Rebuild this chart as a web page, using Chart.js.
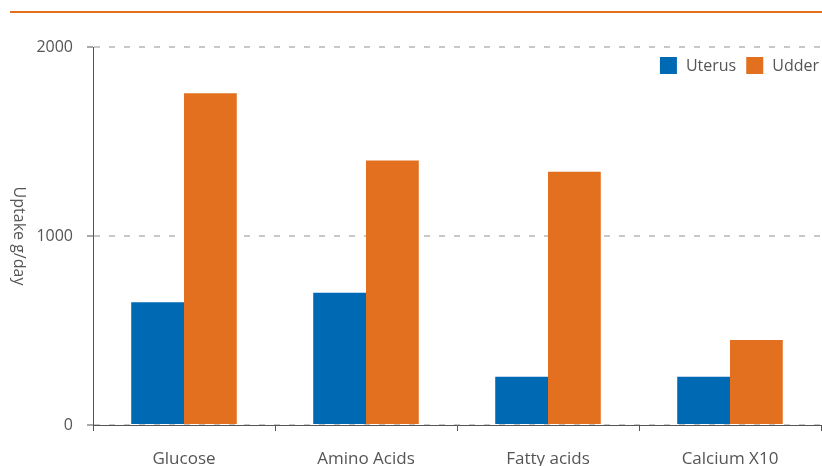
<!DOCTYPE html>
<html lang="en">
<head>
    <meta charset="UTF-8">
    <title>Uptake g/day</title>
    <script src="https://cdn.jsdelivr.net/npm/chart.js"></script>
    <style>
        body { margin: 0; background: #fff; }
        #wrap { position: relative; width: 822px; height: 466px; }
        #topline { position: absolute; left: 10px; right: 0; top: 11px; height: 2px; background: #e3701e; }
    </style>
</head>
<body>
    <div id="wrap">
        <div id="topline"></div>
        <canvas id="myChart" width="822" height="466"></canvas>
    </div>
    <script>
        const categories = ['Glucose', 'Amino Acids', 'Fatty acids', 'Calcium X10'];
        const uterus = [650, 700, 255, 255];
        const udder = [1755, 1400, 1340, 450];
        const yTicks = [0, 1000, 2000];
        const yTitle = 'Uptake g/day';

        const textColor = '#555555';
        const fontFamily = '"Open Sans", "DejaVu Sans", sans-serif';

        // legend inside the plot, top right, and the axis title read top to bottom
        const extras = {
            id: 'extras',
            afterDraw: chart => {
                const c = chart.ctx;
                const area = chart.chartArea;
                c.save();
                c.font = '16px ' + fontFamily;
                c.fillStyle = textColor;
                c.textBaseline = 'middle';
                c.textAlign = 'left';
                let x = area.right - 2;
                const y = area.top + 19;
                const sets = chart.data.datasets.slice().reverse();
                sets.forEach(ds => {
                    const w = c.measureText(ds.label).width;
                    x -= w;
                    c.fillStyle = textColor;
                    c.fillText(ds.label, x, y);
                    x -= 9 + 17;
                    c.fillStyle = ds.backgroundColor;
                    c.fillRect(x, y - 9, 17, 17);
                    x -= 10;
                });

                const yScale = chart.scales.y;
                c.translate(19, (yScale.top + yScale.bottom) / 2);
                c.rotate(Math.PI / 2);
                c.textAlign = 'center';
                c.fillStyle = textColor;
                c.font = '16px ' + fontFamily;
                c.fillText(yTitle, 0, 0);
                c.restore();
            }
        };

        const ctx = document.getElementById('myChart').getContext('2d');
        const myChart = new Chart(ctx, {
            type: 'bar',
            data: {
                labels: categories,
                datasets: [{
                    label: 'Uterus',
                    data: uterus,
                    backgroundColor: '#0069b4',
                    categoryPercentage: 0.58,
                    barPercentage: 1.0
                }, {
                    label: 'Udder',
                    data: udder,
                    backgroundColor: '#e3701e',
                    categoryPercentage: 0.58,
                    barPercentage: 1.0
                }]
            },
            options: {
                responsive: false,
                animation: false,
                layout: { padding: { top: 47, right: 1, left: 4, bottom: 0 } },
                plugins: {
                    tooltip: { enabled: false },
                    legend: { display: false }
                },
                scales: {
                    x: {
                        afterFit: s => { s.height = 41; },
                        border: { display: true, color: '#555555', width: 1 },
                        grid: {
                            display: true,
                            drawOnChartArea: false,
                            tickLength: 6,
                            tickColor: '#555555'
                        },
                        ticks: {
                            color: textColor,
                            padding: 18,
                            font: { family: fontFamily, size: 17 }
                        }
                    },
                    y: {
                        min: 0,
                        max: 2000,
                        afterFit: s => { s.width = 89; },
                        afterBuildTicks: s => { s.ticks = yTicks.map(v => ({ value: v })); },
                        border: { display: true, color: '#555555', width: 1, dash: [6, 9] },
                        grid: {
                            color: '#c8c8c8',
                            lineWidth: 2,
                            tickColor: '#555555',
                            tickWidth: 1,
                            tickLength: 6,
                            tickBorderDash: []
                        },
                        ticks: {
                            color: textColor,
                            padding: 14,
                            font: { family: fontFamily, size: 16 },
                            callback: v => String(v)
                        }
                    }
                }
            },
            plugins: [extras]
        });
    </script>
</body>
</html>
